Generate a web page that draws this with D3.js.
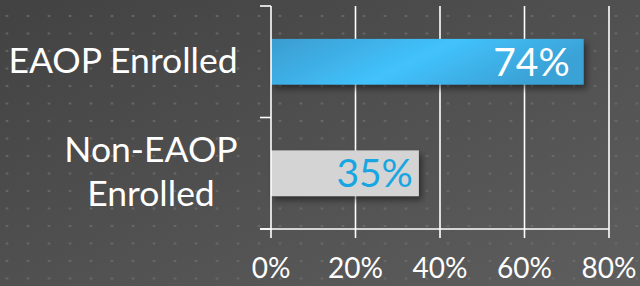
<!DOCTYPE html>
<html>
<head>
<meta charset="utf-8">
<script src="https://cdn.jsdelivr.net/npm/d3@7"></script>
<style>
  html, body { margin: 0; padding: 0; background: #4d4d4d; }
  svg { display: block; font-family: Lato, "Open Sans", sans-serif; }
</style>
</head>
<body>
<svg width="640" height="286"></svg>
<script>
const categories = ["EAOP Enrolled", "Non-EAOP Enrolled"]
const categoryLines = [["EAOP Enrolled"], ["Non-EAOP", "Enrolled"]]
const values = [74, 35]
const xTicks = [0, 20, 40, 60, 80]

const width = 640, height = 286
const margin = {top: 6, right: 31, bottom: 57, left: 271}

const svg = d3.select("svg")

// background gradient + dot grid
const defs = svg.append("defs")
const bg = defs.append("linearGradient").attr("id", "bg")
  .attr("x1", 0).attr("y1", 0).attr("x2", 1).attr("y2", 1)
bg.append("stop").attr("offset", "0%").attr("stop-color", "#424242")
bg.append("stop").attr("offset", "100%").attr("stop-color", "#5e5e5e")

const dots = defs.append("pattern").attr("id", "dots")
  .attr("patternUnits", "userSpaceOnUse")
  .attr("width", 21).attr("height", 17.5)
  .attr("x", -3.5).attr("y", -1.5)
dots.append("rect").attr("x", 9.5).attr("y", 16.5).attr("width", 2).attr("height", 2).attr("fill", "#6e6e6e")
dots.append("rect").attr("x", 9.5).attr("y", -1).attr("width", 2).attr("height", 2).attr("fill", "#6e6e6e")

const blue = defs.append("linearGradient").attr("id", "blueBar")
  .attr("x1", 0).attr("y1", 0).attr("x2", 1).attr("y2", 0.3)
blue.append("stop").attr("offset", "0%").attr("stop-color", "#3a9ccf")
blue.append("stop").attr("offset", "55%").attr("stop-color", "#42c2fc")
blue.append("stop").attr("offset", "100%").attr("stop-color", "#3aa2d6")

const shadow = defs.append("filter").attr("id", "shadow")
  .attr("x", "-5%").attr("y", "-20%").attr("width", "115%").attr("height", "160%")
shadow.append("feDropShadow").attr("dx", 3).attr("dy", 4).attr("stdDeviation", 3)
  .attr("flood-color", "#000").attr("flood-opacity", 0.45)

svg.append("rect").attr("width", width).attr("height", height).attr("fill", "url(#bg)")
svg.append("rect").attr("width", width).attr("height", height).attr("fill", "url(#dots)")

const x = d3.scaleLinear()
  .domain([0, 80])
  .range([margin.left, width - margin.right])

const y = d3.scaleBand()
  .domain(categories)
  .range([margin.top, height - margin.bottom])
  .paddingInner(0.59)
  .paddingOuter(0.295)

const plotBottom = height - margin.bottom

// vertical gridlines
svg.append("g")
  .selectAll("line")
  .data(xTicks.slice(1))
  .join("line")
  .attr("x1", d => x(d)).attr("x2", d => x(d))
  .attr("y1", margin.top).attr("y2", plotBottom + 9)
  .attr("stroke", "#ffffff").attr("stroke-width", 1.6)

// bars
const barFills = ["url(#blueBar)", "#d4d4d4"]
const labelColors = ["#ffffff", "#18a6e2"]
const labelInset = [14, 6]

svg.append("g")
  .selectAll("rect")
  .data(values)
  .join("rect")
  .attr("x", x(0))
  .attr("y", (d, i) => y(categories[i]))
  .attr("width", d => x(d) - x(0))
  .attr("height", y.bandwidth())
  .attr("fill", (d, i) => barFills[i])
  .attr("filter", "url(#shadow)")

svg.append("g")
  .selectAll("text")
  .data(values)
  .join("text")
  .attr("x", (d, i) => x(d) - labelInset[i])
  .attr("y", (d, i) => y(categories[i]) + y.bandwidth() / 2 + 14)
  .attr("text-anchor", "end")
  .attr("font-size", 39)
  .attr("fill", (d, i) => labelColors[i])
  .text(d => d + "%")

// y axis line + ticks
const yAxis = svg.append("g").attr("stroke", "#ffffff").attr("stroke-width", 1.6)
yAxis.append("line")
  .attr("x1", x(0)).attr("x2", x(0))
  .attr("y1", margin.top).attr("y2", plotBottom + 9)
const bandEdges = [margin.top, (y(categories[0]) + y.bandwidth() + y(categories[1])) / 2, plotBottom]
yAxis.selectAll("line.tick")
  .data(bandEdges)
  .join("line")
  .attr("class", "tick")
  .attr("x1", x(0) - 11).attr("x2", x(0))
  .attr("y1", d => d).attr("y2", d => d)

// x axis line + tick labels
svg.append("line")
  .attr("x1", x(0) - 11).attr("x2", x(80))
  .attr("y1", plotBottom).attr("y2", plotBottom)
  .attr("stroke", "#ffffff").attr("stroke-width", 1.6)

svg.append("g")
  .selectAll("text")
  .data(xTicks)
  .join("text")
  .attr("x", d => x(d))
  .attr("y", 278)
  .attr("text-anchor", "middle")
  .attr("font-size", 28)
  .attr("fill", "#ffffff")
  .text(d => d + "%")

// category labels
const catG = svg.append("g")
  .selectAll("text")
  .data(categoryLines)
  .join("text")
  .attr("font-size", 35.5)
  .attr("fill", "#ffffff")
  .attr("text-anchor", "middle")

catG.each(function (lines, i) {
  const cy = y(categories[i]) + y.bandwidth() / 2
  const first = cy + 11 - (lines.length - 1) * 22
  d3.select(this).selectAll("tspan")
    .data(lines)
    .join("tspan")
    .attr("x", lines.length > 1 ? 151 : 123)
    .attr("y", (d, j) => first + j * 44)
    .text(d => d)
})
</script>
</body>
</html>
